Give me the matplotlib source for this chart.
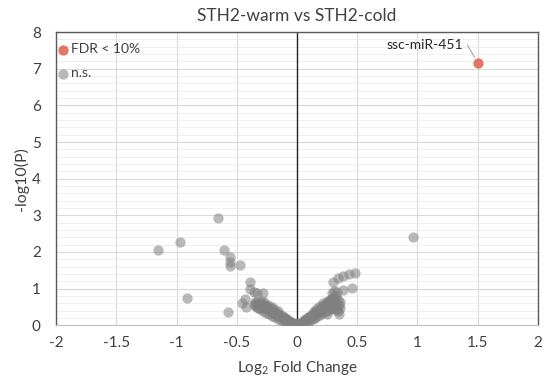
import matplotlib.pyplot as plt
from matplotlib.ticker import MultipleLocator

# --- data ---
sig_x = [1.50]
sig_y = [7.16]
sig_label = 'ssc-miR-451'

ns_x = [
    # isolated points
    -0.66, -0.97, -1.15, -0.61, -0.56, -0.56, -0.56, -0.47, -0.91, -0.57,
    0.96,
    -0.39, -0.39, -0.36, -0.33, -0.28, -0.43, -0.42, -0.32, -0.46,
    0.30, 0.34, 0.38, 0.43, 0.48, 0.29, 0.33, 0.38, 0.46, 0.36,
    # left branch
    -0.01, -0.02, -0.03, -0.04, -0.05, -0.05, -0.06, -0.07, -0.08, -0.08,
    -0.09, -0.10, -0.10, -0.11, -0.12, -0.12, -0.13, -0.14, -0.14, -0.15,
    -0.15, -0.16, -0.17, -0.17, -0.18, -0.18, -0.19, -0.20, -0.20, -0.21,
    -0.22, -0.22, -0.23, -0.23, -0.24, -0.24, -0.25, -0.25, -0.26, -0.26,
    -0.27, -0.27, -0.28, -0.28, -0.29, -0.30, -0.30, -0.31, -0.32, -0.33,
    -0.34, -0.35, -0.36,
    -0.03, -0.06, -0.09, -0.11, -0.13, -0.16, -0.18, -0.21, -0.23, -0.26,
    -0.28, -0.31, -0.33, -0.35, -0.30, -0.27, -0.24, -0.21, -0.19, -0.16,
    # right branch
    0.01, 0.02, 0.03, 0.04, 0.05, 0.05, 0.06, 0.07, 0.07, 0.08,
    0.09, 0.09, 0.10, 0.10, 0.11, 0.12, 0.12, 0.13, 0.13, 0.14,
    0.15, 0.15, 0.16, 0.16, 0.17, 0.17, 0.18, 0.18, 0.19, 0.19,
    0.20, 0.20, 0.21, 0.21, 0.22, 0.22, 0.23, 0.23, 0.24, 0.24,
    0.25, 0.25, 0.26, 0.26, 0.27, 0.27, 0.28, 0.28, 0.29, 0.30,
    0.30, 0.31, 0.32, 0.25, 0.28, 0.30, 0.32, 0.34, 0.35, 0.33,
    0.36,
    0.03, 0.06, 0.09, 0.11, 0.13, 0.15, 0.17, 0.19, 0.21, 0.23,
    0.25, 0.27, 0.29, 0.31, 0.33, 0.34, 0.22, 0.19, 0.17, 0.14,
    0.31, 0.35,
]
ns_y = [
    2.92, 2.27, 2.05, 2.05, 1.86, 1.72, 1.61, 1.64, 0.74, 0.36,
    2.40,
    1.17, 0.98, 0.90, 0.87, 0.87, 0.71, 0.50, 0.48, 0.60,
    1.17, 1.28, 1.34, 1.40, 1.42, 0.87, 0.90, 0.96, 1.01, 0.63,
    0.02, 0.03, 0.05, 0.06, 0.08, 0.10, 0.09, 0.12, 0.13, 0.16,
    0.15, 0.17, 0.20, 0.18, 0.21, 0.24, 0.22, 0.25, 0.28, 0.24,
    0.30, 0.27, 0.29, 0.33, 0.31, 0.36, 0.33, 0.35, 0.39, 0.37,
    0.40, 0.44, 0.38, 0.42, 0.45, 0.50, 0.43, 0.47, 0.52, 0.46,
    0.49, 0.55, 0.51, 0.58, 0.53, 0.48, 0.56, 0.60, 0.55, 0.62,
    0.58, 0.64, 0.57,
    0.02, 0.05, 0.08, 0.12, 0.15, 0.18, 0.22, 0.26, 0.30, 0.34,
    0.40, 0.45, 0.50, 0.52, 0.65, 0.62, 0.56, 0.50, 0.44, 0.38,
    0.02, 0.04, 0.05, 0.07, 0.09, 0.11, 0.12, 0.13, 0.16, 0.15,
    0.18, 0.21, 0.19, 0.23, 0.22, 0.25, 0.28, 0.26, 0.30, 0.29,
    0.32, 0.35, 0.31, 0.36, 0.34, 0.39, 0.37, 0.42, 0.40, 0.45,
    0.38, 0.44, 0.48, 0.42, 0.46, 0.52, 0.49, 0.55, 0.51, 0.58,
    0.54, 0.62, 0.57, 0.65, 0.60, 0.69, 0.63, 0.72, 0.66, 0.70,
    0.78, 0.74, 0.80, 0.40, 0.45, 0.50, 0.42, 0.38, 0.55, 0.62,
    0.48,
    0.02, 0.05, 0.08, 0.13, 0.16, 0.20, 0.24, 0.28, 0.32, 0.36,
    0.30, 0.44, 0.50, 0.56, 0.48, 0.70, 0.60, 0.52, 0.46, 0.40,
    0.92, 0.30,
]

plt.rcParams['font.family'] = ['Lato', 'DejaVu Sans']
plt.rcParams['mathtext.fontset'] = 'custom'
plt.rcParams['mathtext.rm'] = 'Lato'

fig = plt.figure(figsize=(5.5, 3.83), dpi=100)
ax = fig.add_axes([0.102, 0.151, 0.876, 0.765])

ax.scatter(ns_x, ns_y, s=55, color='#808080', alpha=0.55, linewidths=0,
           label='n.s.', zorder=3)
ax.scatter(sig_x, sig_y, s=55, color='#e0604c', alpha=0.85, linewidths=0,
           label='FDR < 10%', zorder=4)

ax.annotate(sig_label, xy=(sig_x[0] - 0.02, sig_y[0] + 0.12),
            xytext=(sig_x[0] - 0.12, sig_y[0] + 0.5),
            ha='right', va='center', fontsize=10, color='#262626',
            arrowprops=dict(arrowstyle='-', color='#a6a6a6', lw=0.8,
                            shrinkA=1, shrinkB=1,
                            connectionstyle='angle,angleA=0,angleB=120,rad=0'))

ax.set_xlim(-2, 2)
ax.set_ylim(0, 8)
ax.yaxis.set_major_locator(MultipleLocator(1))
ax.yaxis.set_minor_locator(MultipleLocator(0.2))
ax.set_xticks([-2, -1.5, -1, -0.5, 0, 0.5, 1, 1.5, 2])
ax.set_xticklabels(['-2', '-1.5', '-1', '-0.5', '0', '0.5', '1', '1.5', '2'])

ax.grid(True, which='major', color='#d9d9d9', lw=0.8, zorder=0)
ax.grid(True, which='minor', axis='y', color='#ececec', lw=0.6, zorder=0)
ax.axvline(0, color='#262626', lw=1.0, zorder=2)
ax.set_axisbelow(True)

for side in ['left', 'top', 'right']:
    ax.spines[side].set_color('#595959')
    ax.spines[side].set_linewidth(1.0)
ax.spines['bottom'].set_color('#bfbfbf')

ax.tick_params(which='both', length=0, labelsize=11, colors='#404040')
ax.tick_params(axis='x', pad=8)
ax.tick_params(axis='y', pad=11)

ax.set_title('STH2-warm vs STH2-cold', fontsize=12.5, color='#404040', pad=8)
ax.set_xlabel('Log$_2$ Fold Change', fontsize=11, color='#404040', labelpad=6)
ax.set_ylabel('-log10(P)', fontsize=11.5, color='#404040', labelpad=2)

handles, labels = ax.get_legend_handles_labels()
ax.legend(handles[::-1], labels[::-1], loc='upper left', frameon=False,
          bbox_to_anchor=(-0.018, 0.99),
          fontsize=10, handletextpad=0.1, borderaxespad=0.1,
          borderpad=0.5, labelspacing=0.85, handlelength=1.0,
          labelcolor='#404040')

fig.savefig('out.png', dpi=100)
